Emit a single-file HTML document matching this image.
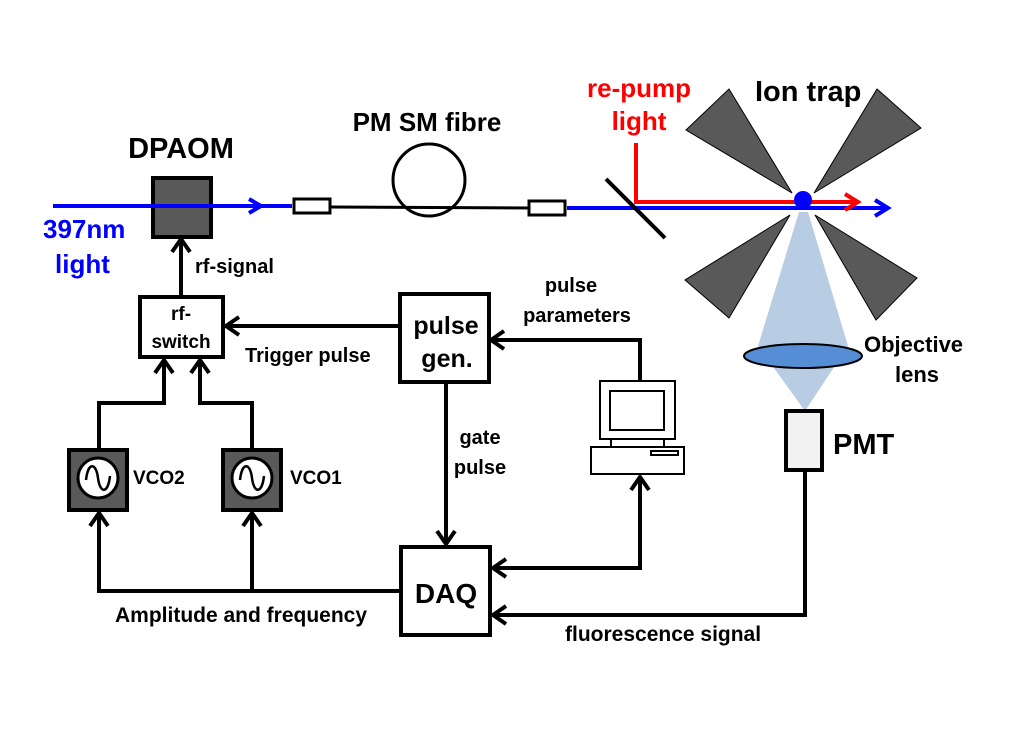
<!DOCTYPE html>
<html><head><meta charset="utf-8"><style>
html,body{margin:0;padding:0;background:#fff;}
svg{display:block;}
text{font-family:"Liberation Sans",sans-serif;font-weight:bold;}
</style></head><body>
<svg width="1009" height="740" viewBox="0 0 1009 740" xmlns="http://www.w3.org/2000/svg">
<rect width="1009" height="740" fill="#fff"/>
<!-- light cone -->
<polygon points="799,212 808,212 848,346 805,411 758,346" fill="#b8cce4"/>
<!-- electrodes -->
<g fill="#595959" stroke="#000" stroke-width="1">
<polygon points="686,130 729,89 792,193"/>
<polygon points="877,89 921,128 814,193"/>
<polygon points="685,280 729,318 790,215"/>
<polygon points="815,215 917,278 876,320"/>
</g>
<!-- lens -->
<ellipse cx="803" cy="356" rx="59" ry="12" fill="#558ed5" stroke="#000" stroke-width="2"/>
<!-- DPAOM -->
<rect x="153" y="178" width="58" height="59" fill="#595959" stroke="#000" stroke-width="4"/>
<!-- fibre -->
<line x1="330" y1="207" x2="530" y2="208" stroke="#000" stroke-width="3"/>
<circle cx="429" cy="180" r="36" fill="none" stroke="#000" stroke-width="3"/>
<rect x="294" y="199" width="36" height="14" fill="#fff" stroke="#000" stroke-width="3"/>
<!-- blue beams -->
<line x1="53" y1="206" x2="292" y2="206" stroke="#0000ff" stroke-width="4"/>
<polyline points="249,199 261,206 249,213" fill="none" stroke="#0000ff" stroke-width="4"/>
<line x1="567" y1="208" x2="887" y2="208" stroke="#0000ff" stroke-width="4"/>
<polyline points="875,200 888,208 875,216" fill="none" stroke="#0000ff" stroke-width="4"/>
<rect x="529" y="201" width="36" height="14" fill="#fff" stroke="#000" stroke-width="3"/>
<!-- red beam -->
<polyline points="636,143 636,202 857,202" fill="none" stroke="#ff0000" stroke-width="4"/>
<polyline points="845,194 858,202 845,210" fill="none" stroke="#ff0000" stroke-width="4"/>
<!-- mirror -->
<line x1="606" y1="179" x2="665" y2="238" stroke="#000" stroke-width="4"/>
<!-- ion -->
<circle cx="803" cy="200" r="9" fill="#0000ff"/>
<!-- PMT -->
<rect x="786" y="411" width="36" height="59" fill="#f2f2f2" stroke="#000" stroke-width="4"/>
<!-- rf switch -->
<rect x="140" y="297" width="83" height="60" fill="#fff" stroke="#000" stroke-width="4"/>
<!-- pulse gen -->
<rect x="400" y="294" width="89" height="88" fill="#fff" stroke="#000" stroke-width="4"/>
<!-- DAQ -->
<rect x="401" y="547" width="89" height="88" fill="#fff" stroke="#000" stroke-width="4"/>
<!-- VCOs -->
<g stroke="#000" stroke-width="4">
<rect x="69" y="450" width="58" height="60" fill="#595959"/>
<rect x="223" y="450" width="58" height="60" fill="#595959"/>
</g>
<g stroke="#000" stroke-width="3" fill="#fff">
<circle cx="98" cy="478" r="20"/>
<circle cx="252" cy="478" r="20"/>
</g>
<g stroke="#000" stroke-width="2.5" fill="none">
<path d="M86,480 C88,462 96,462 98,478 C100,494 108,494 110,476"/>
<path d="M240,480 C242,462 250,462 252,478 C254,494 262,494 264,476"/>
</g>
<!-- computer -->
<g stroke="#000" stroke-width="2" fill="#fff">
<rect x="600" y="381" width="75" height="58"/>
<rect x="610" y="391" width="54" height="39"/>
<line x1="611" y1="439" x2="611" y2="447"/>
<line x1="664" y1="439" x2="664" y2="447"/>
<rect x="591" y="447" width="93" height="27"/>
<rect x="651" y="451" width="27" height="4"/>
</g>
<!-- connectors -->
<g stroke="#000" stroke-width="4" fill="none" stroke-linejoin="miter">
<line x1="181" y1="297" x2="181" y2="240"/>
<polyline points="172,252 181,239 190,252"/>
<line x1="400" y1="326" x2="227" y2="326"/>
<polyline points="239,317 226,326 239,335"/>
<polyline points="640,381 640,340 492,340"/>
<polyline points="504,331 491,340 504,349"/>
<polyline points="99,450 99,403 164,403 164,361"/>
<polyline points="155,373 164,360 173,373"/>
<polyline points="252,450 252,403 200,403 200,361"/>
<polyline points="191,373 200,360 209,373"/>
<polyline points="401,591 99,591 99,514"/>
<polyline points="90,526 99,513 108,526"/>
<line x1="252" y1="591" x2="252" y2="514"/>
<polyline points="243,526 252,513 261,526"/>
<line x1="446" y1="382" x2="446" y2="543"/>
<polyline points="437,531 446,544 455,531"/>
<polyline points="494,568 640,568 640,478"/>
<polyline points="631,490 640,477 649,490"/>
<polyline points="506,559 493,568 506,577"/>
<polyline points="805,470 805,615 494,615"/>
<polyline points="506,606 493,615 506,624"/>
</g>
<!-- text -->
<text x="181" y="158" font-size="29" text-anchor="middle">DPAOM</text>
<text x="427" y="131" font-size="26" text-anchor="middle">PM SM fibre</text>
<text x="43" y="238" font-size="26" fill="#0000ff">397nm</text>
<text x="55" y="273" font-size="26" fill="#0000ff">light</text>
<text x="195" y="273" font-size="20">rf-signal</text>
<text x="181" y="320" font-size="19" text-anchor="middle">rf-</text>
<text x="181" y="348" font-size="19" text-anchor="middle">switch</text>
<text x="245" y="362" font-size="20">Trigger pulse</text>
<text x="446" y="334" font-size="25" text-anchor="middle">pulse</text>
<text x="447" y="367" font-size="25" text-anchor="middle">gen.</text>
<text x="571" y="292" font-size="20" text-anchor="middle">pulse</text>
<text x="577" y="322" font-size="20" text-anchor="middle">parameters</text>
<text x="639" y="97" font-size="26" fill="#ff0000" text-anchor="middle">re-pump</text>
<text x="639" y="130" font-size="26" fill="#ff0000" text-anchor="middle">light</text>
<text x="755" y="101" font-size="29">Ion trap</text>
<text x="864" y="352" font-size="22">Objective</text>
<text x="917" y="382" font-size="22" text-anchor="middle">lens</text>
<text x="833" y="454" font-size="29">PMT</text>
<text x="480" y="444" font-size="20" text-anchor="middle">gate</text>
<text x="480" y="474" font-size="20" text-anchor="middle">pulse</text>
<text x="133" y="484" font-size="19">VCO2</text>
<text x="290" y="484" font-size="19">VCO1</text>
<text x="446" y="603" font-size="28" text-anchor="middle">DAQ</text>
<text x="115" y="622" font-size="21">Amplitude and frequency</text>
<text x="565" y="641" font-size="21">fluorescence signal</text>
</svg>
</body></html>
